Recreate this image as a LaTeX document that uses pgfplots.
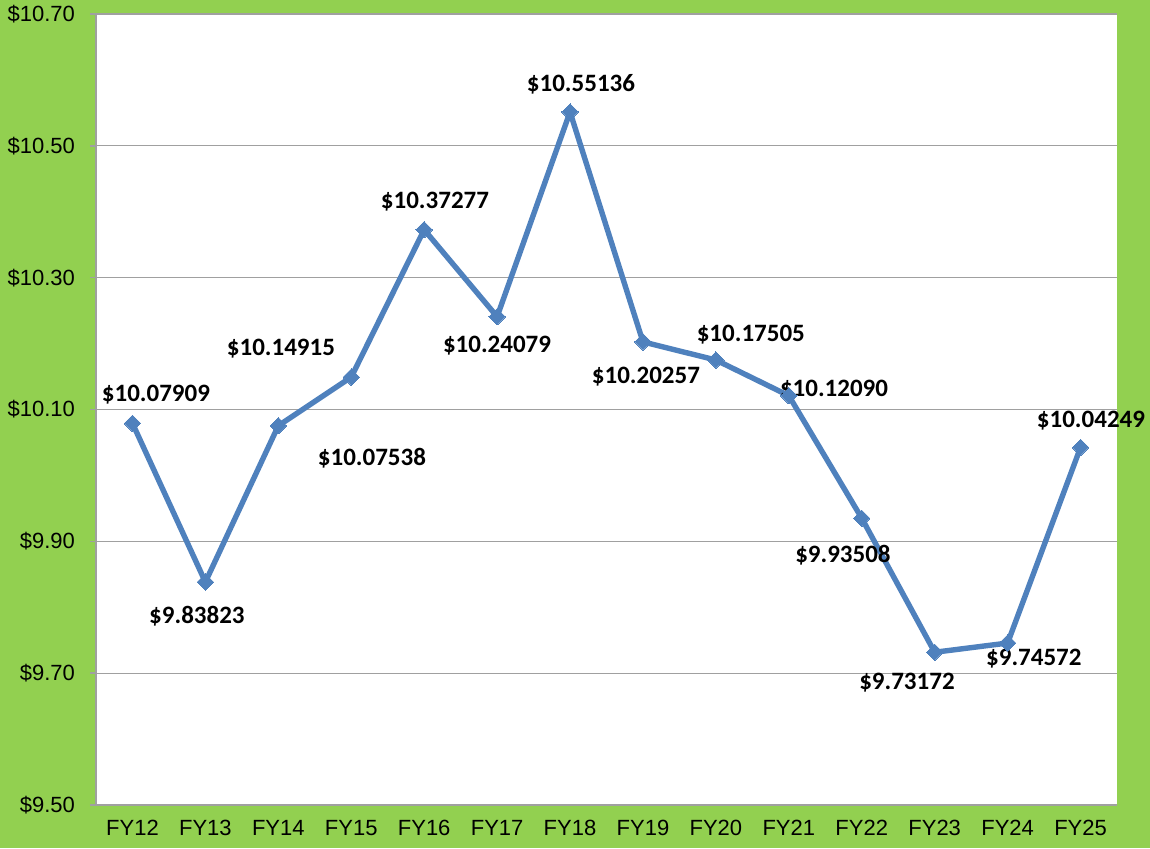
\documentclass[border=0pt]{standalone}
\usepackage{pgfplots}
\pgfplotsset{compat=1.18}
\usepackage{fontspec}
\setmainfont{Liberation Sans}
\newfontfamily\carlito{Carlito}
\definecolor{bggreen}{HTML}{92D050}
\definecolor{lineblue}{HTML}{4F81BD}
\definecolor{gridgray}{HTML}{A0A0A0}
\begin{document}
\begin{tikzpicture}[x=1pt,y=1pt]
\fill[bggreen] (0,0) rectangle (575,424);
\useasboundingbox (0,0) rectangle (575,424);
\begin{axis}[
  at={(48pt,21.5pt)}, anchor=south west,
  scale only axis, width=510.5pt, height=395.5pt,
  xmin=-0.5, xmax=13.5, ymin=9.5, ymax=10.7,
  clip=false,
  axis background/.style={fill=white},
  axis x line*=bottom, axis y line*=left,
  axis line style={gridgray, line width=0.8pt, -},
  xtick={0,...,13},
  xticklabels={FY12,FY13,FY14,FY15,FY16,FY17,FY18,FY19,FY20,FY21,FY22,FY23,FY24,FY25},
  xtick style={draw=none},
  minor xtick={-0.5,0.5,...,13.5},
  minor tick length=3pt,
  minor x tick style={gridgray, line width=0.8pt},
  ytick={9.5,9.7,...,10.71},
  major tick length=3pt,
  ytick style={gridgray, line width=0.8pt},
  tick align=outside,
  ymajorgrids,
  major grid style={gridgray, line width=0.6pt},
  yticklabel={\$\pgfmathprintnumber[fixed,fixed zerofill,precision=2]{\tick}},
  /pgf/number format/assume math mode=true,
  tick label style={font=\fontsize{11}{13}\selectfont, black},
  xticklabel style={yshift=-1pt},
  yticklabel style={xshift=-4pt},
]
\addplot[lineblue, line width=2.7pt, mark=square*, mark size=2.9pt,
  mark options={rotate=45, fill=lineblue, draw=lineblue, line width=0pt}]
  coordinates {
  (0,10.07909) (1,9.83823) (2,10.07538) (3,10.14915) (4,10.37277)
  (5,10.24079) (6,10.55136) (7,10.20257) (8,10.17505) (9,10.12090)
  (10,9.93508) (11,9.73172) (12,9.74572) (13,10.04249)
  };
\begin{scope}[every node/.style={font=\carlito\bfseries\fontsize{12.5}{14}\selectfont, inner sep=0pt}]
\node at (axis cs:0.322,10.1220) {\$10.07909};
\node at (axis cs:0.884,9.7867) {\$9.83823};
\node at (axis cs:2.036,10.1917) {\$10.14915};
\node at (axis cs:3.284,10.0264) {\$10.07538};
\node at (axis cs:4.148,10.4147) {\$10.37277};
\node at (axis cs:4.999,10.1963) {\$10.24079};
\node at (axis cs:6.15,10.5937) {\$10.55136};
\node at (axis cs:7.041,10.1493) {\$10.20257};
\node at (axis cs:8.479,10.213) {\$10.17505};
\node at (axis cs:9.62,10.130) {\$10.12090};
\node at (axis cs:9.742,9.8792) {\$9.93508};
\node at (axis cs:10.62,9.685) {\$9.73172};
\node at (axis cs:12.36,9.722) {\$9.74572};
\node at (axis cs:13.143,10.0825) {\$10.04249};
\end{scope}
\end{axis}
\end{tikzpicture}
\end{document}
